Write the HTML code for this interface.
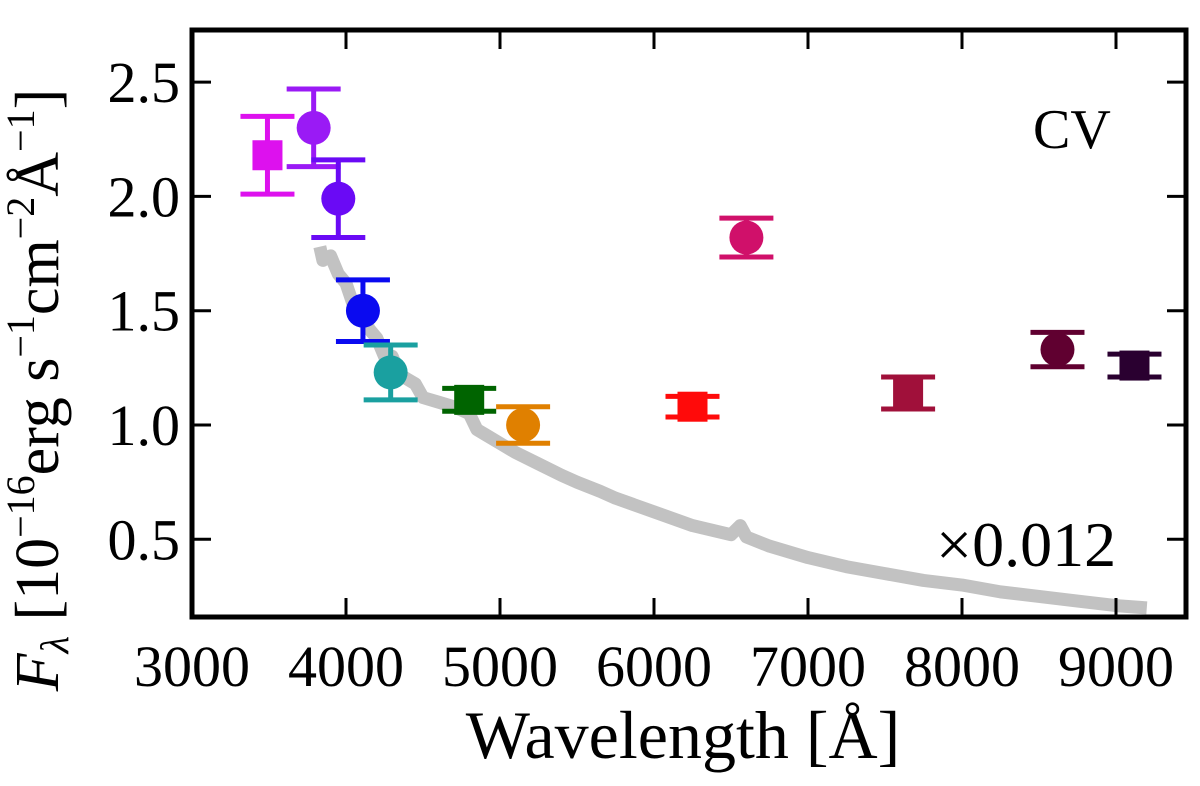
<!DOCTYPE html>
<html><head><meta charset="utf-8"><style>
html,body{margin:0;padding:0;background:#fff;}
svg text{font-family:"Liberation Serif",serif;fill:#000;}
</style></head><body>
<svg id="chart" width="1200" height="781" viewBox="0 0 1200 781" xmlns="http://www.w3.org/2000/svg">
<g id="spec"></g>
<g id="marks"></g>
<rect x="192" y="30" width="994" height="587" fill="none" stroke="#000" stroke-width="5"/>
<g id="axes"></g>
<text x="1033" y="148" font-size="56">CV</text>
<text x="936" y="566" font-size="64">×0.012</text>
<text x="683" y="758" font-size="68" text-anchor="middle">Wavelength [Å]</text>
<text transform="translate(58,390) rotate(-90)" font-size="62" text-anchor="middle"><tspan font-style="italic">F</tspan><tspan font-size="40" font-style="italic" dy="10">λ</tspan><tspan dy="-10"> [10</tspan><tspan font-size="40" dy="-24">−16</tspan><tspan dy="24">erg s</tspan><tspan font-size="40" dy="-24">−1</tspan><tspan dy="24">cm</tspan><tspan font-size="40" dy="-24">−2</tspan><tspan dy="24">Å</tspan><tspan font-size="40" dy="-24">−1</tspan><tspan dy="24">]</tspan></text>
</svg>
<script>
const xTicks=[3000,4000,5000,6000,7000,8000,9000];
const yTicks=[0.5,1.0,1.5,2.0,2.5];
const yTickLabels=["0.5","1.0","1.5","2.0","2.5"];
const specWave=[3830,3850,3900,3950,4000,4050,4100,4150,4200,4250,4300,4350,4400,4450,4500,4600,4700,4800,4850,4900,5000,5100,5250,5400,5500,5650,5750,6000,6250,6500,6560,6600,6750,7000,7250,7500,7750,8000,8250,8500,8750,9000,9200];
const specFlux=[1.78,1.72,1.74,1.66,1.62,1.52,1.5,1.42,1.38,1.3,1.3,1.22,1.2,1.18,1.12,1.1,1.08,1.05,0.98,0.96,0.92,0.88,0.83,0.78,0.75,0.71,0.68,0.62,0.56,0.52,0.56,0.51,0.47,0.42,0.38,0.35,0.32,0.3,0.27,0.25,0.23,0.21,0.2];
const ptWave=[3490,3790,3950,4110,4290,4800,5150,6250,6600,7650,8620,9120];
const ptFlux=[2.18,2.30,1.99,1.50,1.23,1.11,1.00,1.08,1.82,1.14,1.33,1.26];
const ptErr=[0.17,0.17,0.17,0.135,0.12,0.05,0.08,0.045,0.085,0.07,0.075,0.05];
const ptShape=["s","c","c","c","c","s","c","s","c","s","c","s"];
const ptColor=["#dd11ee","#9a1af5","#6a0af5","#0a0af0","#1aa0a0","#006400","#e08000","#ff0a0a","#d0106a","#a0103a","#600030","#2a0030"];
const X=w=>192+(w-3000)*0.154;
const Y=f=>425-(f-1.0)*228.6;
const NS="http://www.w3.org/2000/svg";
function mk(t,a,p){const e=document.createElementNS(NS,t);for(const k in a)e.setAttribute(k,a[k]);p.appendChild(e);return e;}
const spec=document.getElementById('spec');
const pl=mk('polyline',{points:specWave.map((w,i)=>X(w)+','+Y(specFlux[i])).join(' '),fill:'none',stroke:'#c2c2c2','stroke-width':13,'stroke-linejoin':'round'},spec);


const marks=document.getElementById('marks');
ptWave.forEach((w,i)=>{
 const g=mk('g',{},marks);
 
 
 const c=ptColor[i],x=X(w),y=Y(ptFlux[i]),y1=Y(ptFlux[i]+ptErr[i]),y2=Y(ptFlux[i]-ptErr[i]);
 mk('line',{x1:x,x2:x,y1:y1,y2:y2,stroke:c,'stroke-width':5},g);
 mk('line',{x1:x-27,x2:x+27,y1:y1,y2:y1,stroke:c,'stroke-width':5},g);
 mk('line',{x1:x-27,x2:x+27,y1:y2,y2:y2,stroke:c,'stroke-width':5},g);
 if(ptShape[i]==='c') mk('circle',{cx:x,cy:y,r:17,fill:c},g);
 else mk('rect',{x:x-15,y:y-15,width:30,height:30,fill:c},g);
});
const ax=document.getElementById('axes');
xTicks.forEach(t=>{const x=X(t);
 mk('line',{x1:x,x2:x,y1:617,y2:598,stroke:'#000','stroke-width':3},ax);
 mk('line',{x1:x,x2:x,y1:30,y2:49,stroke:'#000','stroke-width':3},ax);
 const tx=mk('text',{x:x,y:686,'font-size':58,'text-anchor':'middle'},ax);tx.textContent=t;
 
 
});
yTicks.forEach((t,i)=>{const y=Y(t);
 mk('line',{x1:192,x2:211,y1:y,y2:y,stroke:'#000','stroke-width':3},ax);
 mk('line',{x1:1186,x2:1167,y1:y,y2:y,stroke:'#000','stroke-width':3},ax);
 const tx=mk('text',{x:180,y:y+20,'font-size':58,'text-anchor':'end'},ax);tx.textContent=yTickLabels[i];
 
 
});
</script>
</body></html>
